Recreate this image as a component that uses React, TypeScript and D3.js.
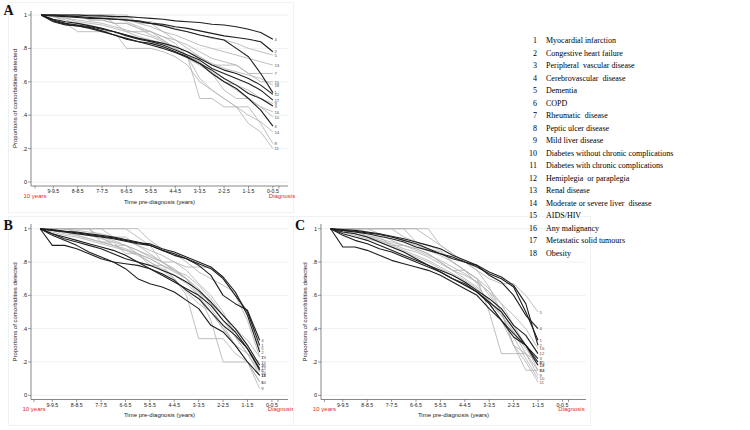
import React from "react";
import * as d3 from "d3";

// ---------- DATA ----------
const legendNumbers = [1, 2, 3, 4, 5, 6, 7, 8, 9, 10, 11, 12, 13, 14, 15, 16, 17, 18];
const legendLabels = [
  "Myocardial infarction",
  "Congestive heart failure",
  "Peripheral  vascular disease",
  "Cerebrovascular  disease",
  "Dementia",
  "COPD",
  "Rheumatic  disease",
  "Peptic ulcer disease",
  "Mild liver disease",
  "Diabetes without chronic complications",
  "Diabetes with chronic complications",
  "Hemiplegia  or paraplegia",
  "Renal disease",
  "Moderate or severe liver  disease",
  "AIDS/HIV",
  "Any malignancy",
  "Metastatic solid tumours",
  "Obesity",
];
const darkSeries = [1, 2, 3, 4, 6, 12, 17];

// time points (years before diagnosis, interval mid-points)
const timesA = [9.75, 9.25, 8.75, 8.25, 7.75, 7.25, 6.75, 6.25, 5.75, 5.25, 4.75, 4.25, 3.75, 3.25, 2.75, 2.25, 1.75, 1.25, 0.75, 0.25];
const timesB = [9.75, 9.25, 8.75, 8.25, 7.75, 7.25, 6.75, 6.25, 5.75, 5.25, 4.75, 4.25, 3.75, 3.25, 2.75, 2.25, 1.75, 1.25, 0.75];
const timesC = [9.75, 9.25, 8.75, 8.25, 7.75, 7.25, 6.75, 6.25, 5.75, 5.25, 4.75, 4.25, 3.75, 3.25, 2.75, 2.25, 1.75, 1.25];

const xTickValues = [9.25, 8.25, 7.25, 6.25, 5.25, 4.25, 3.25, 2.25, 1.25, 0.25];
const xTickLabels = ["9-9.5", "8-8.5", "7-7.5", "6-6.5", "5-5.5", "4-4.5", "3-3.5", "2-2.5", "1-1.5", "0-0.5"];
const startLabel = "10 years";
const endLabel = "Diagnosis";
const yTickValues = [0, 0.2, 0.4, 0.6, 0.8, 1];
const yTickLabels = ["0", ".2", ".4", ".6", ".8", "1"];

// Panel A: series 1..18
const valuesA = [
  [1, 1, 0.995, 0.99, 0.985, 0.98, 0.975, 0.97, 0.965, 0.95, 0.935, 0.915, 0.9, 0.88, 0.865, 0.85, 0.8, 0.75, 0.65, 0.535],
  [1, 0.995, 0.99, 0.985, 0.98, 0.98, 0.975, 0.97, 0.96, 0.95, 0.945, 0.93, 0.92, 0.905, 0.89, 0.875, 0.865, 0.855, 0.84, 0.78],
  [1, 0.965, 0.945, 0.935, 0.92, 0.9, 0.88, 0.86, 0.84, 0.82, 0.8, 0.775, 0.745, 0.71, 0.67, 0.62, 0.58, 0.53, 0.5, 0.455],
  [1, 1, 1, 1, 0.995, 0.995, 0.99, 0.99, 0.985, 0.98, 0.975, 0.965, 0.96, 0.955, 0.945, 0.94, 0.93, 0.915, 0.895, 0.855],
  [1, 1, 1, 1, 1, 1, 0.98, 0.98, 0.96, 0.96, 0.94, 0.92, 0.9, 0.88, 0.86, 0.85, 0.83, 0.8, 0.78, 0.76],
  [1, 0.96, 0.94, 0.935, 0.925, 0.905, 0.88, 0.855, 0.84, 0.83, 0.81, 0.78, 0.75, 0.71, 0.65, 0.6, 0.56, 0.5, 0.43, 0.335],
  [1, 1, 1, 1, 0.97, 0.97, 0.95, 0.95, 0.92, 0.9, 0.87, 0.85, 0.82, 0.78, 0.74, 0.72, 0.7, 0.65, 0.65, 0.65],
  [1, 1, 1, 1, 0.97, 0.97, 0.95, 0.95, 0.92, 0.88, 0.85, 0.8, 0.75, 0.5, 0.5, 0.45, 0.45, 0.45, 0.35, 0.23],
  [1, 1, 0.98, 0.96, 0.95, 0.94, 0.92, 0.9, 0.87, 0.85, 0.83, 0.8, 0.76, 0.72, 0.66, 0.6, 0.58, 0.55, 0.5, 0.47],
  [1, 0.99, 0.97, 0.95, 0.94, 0.92, 0.9, 0.88, 0.86, 0.84, 0.81, 0.78, 0.74, 0.7, 0.65, 0.6, 0.55, 0.5, 0.45, 0.39],
  [1, 1, 0.95, 0.9, 0.9, 0.9, 0.9, 0.8, 0.8, 0.8, 0.78, 0.75, 0.7, 0.6, 0.55, 0.5, 0.45, 0.35, 0.3, 0.2],
  [1, 0.97, 0.95, 0.94, 0.93, 0.915, 0.9, 0.88, 0.86, 0.845, 0.83, 0.81, 0.78, 0.74, 0.7, 0.67, 0.65, 0.62, 0.58, 0.525],
  [1, 1, 1, 1, 1, 0.99, 0.98, 0.97, 0.95, 0.93, 0.9, 0.88, 0.85, 0.82, 0.8, 0.78, 0.76, 0.74, 0.72, 0.7],
  [1, 1, 1, 1, 1, 1, 1, 0.96, 0.93, 0.9, 0.87, 0.83, 0.75, 0.62, 0.55, 0.5, 0.45, 0.4, 0.36, 0.3],
  [1, 1, 1, 1, 1, 1, 1, 1, 0.95, 0.95, 0.9, 0.85, 0.8, 0.75, 0.7, 0.7, 0.7, 0.65, 0.6, 0.6],
  [1, 1, 1, 1, 1, 1, 0.95, 0.9, 0.9, 0.9, 0.85, 0.8, 0.75, 0.72, 0.65, 0.55, 0.5, 0.5, 0.45, 0.42],
  [1, 0.975, 0.96, 0.95, 0.935, 0.92, 0.9, 0.875, 0.855, 0.84, 0.82, 0.79, 0.76, 0.73, 0.68, 0.65, 0.62, 0.59, 0.55, 0.49],
  [1, 0.99, 0.98, 0.97, 0.96, 0.95, 0.93, 0.91, 0.89, 0.87, 0.84, 0.81, 0.78, 0.75, 0.71, 0.68, 0.66, 0.64, 0.62, 0.58],
];

// Panel B: series 1..18
const valuesB = [
  [1, 0.99, 0.985, 0.98, 0.97, 0.96, 0.95, 0.935, 0.92, 0.9, 0.87, 0.85, 0.82, 0.79, 0.76, 0.7, 0.6, 0.5, 0.3],
  [1, 0.995, 0.985, 0.975, 0.965, 0.955, 0.945, 0.93, 0.915, 0.91, 0.88, 0.86, 0.83, 0.8, 0.77, 0.71, 0.62, 0.48, 0.26],
  [1, 0.97, 0.94, 0.92, 0.9, 0.88, 0.85, 0.82, 0.8, 0.78, 0.75, 0.72, 0.68, 0.63, 0.56, 0.48, 0.4, 0.3, 0.18],
  [1, 0.99, 0.98, 0.97, 0.96, 0.95, 0.94, 0.925, 0.91, 0.9, 0.87, 0.84, 0.82, 0.78, 0.72, 0.6, 0.55, 0.51, 0.33],
  [1, 1, 1, 1, 1, 1, 1, 1, 1, 0.93, 0.88, 0.85, 0.8, 0.74, 0.7, 0.66, 0.62, 0.5, 0.28],
  [1, 0.9, 0.9, 0.88, 0.85, 0.82, 0.8, 0.79, 0.78, 0.76, 0.73, 0.69, 0.63, 0.58, 0.5, 0.42, 0.36, 0.28, 0.15],
  [1, 1, 1, 0.98, 0.97, 0.95, 0.93, 0.9, 0.87, 0.83, 0.8, 0.76, 0.7, 0.62, 0.55, 0.48, 0.4, 0.33, 0.23],
  [1, 1, 1, 1, 1, 0.95, 0.9, 0.9, 0.85, 0.8, 0.75, 0.7, 0.6, 0.34, 0.34, 0.34, 0.25, 0.2, 0.08],
  [1, 1, 0.98, 0.96, 0.94, 0.92, 0.9, 0.87, 0.84, 0.8, 0.76, 0.72, 0.67, 0.6, 0.45, 0.2, 0.2, 0.2, 0.04],
  [1, 0.98, 0.96, 0.95, 0.93, 0.91, 0.89, 0.87, 0.85, 0.82, 0.78, 0.74, 0.7, 0.64, 0.55, 0.45, 0.35, 0.25, 0.14],
  [1, 1, 1, 1, 1, 1, 0.95, 0.95, 0.9, 0.85, 0.8, 0.8, 0.75, 0.67, 0.6, 0.5, 0.35, 0.25, 0.12],
  [1, 0.97, 0.95, 0.93, 0.91, 0.89, 0.87, 0.84, 0.8, 0.76, 0.72, 0.68, 0.64, 0.6, 0.54, 0.45, 0.38, 0.28, 0.16],
  [1, 1, 1, 0.99, 0.98, 0.97, 0.95, 0.93, 0.9, 0.87, 0.84, 0.8, 0.77, 0.77, 0.77, 0.7, 0.6, 0.45, 0.23],
  [1, 1, 1, 1, 1, 1, 1, 1, 0.95, 0.9, 0.8, 0.75, 0.7, 0.6, 0.5, 0.4, 0.3, 0.2, 0.08],
  [1, 1, 1, 1, 1, 0.92, 0.92, 0.85, 0.85, 0.78, 0.78, 0.7, 0.62, 0.55, 0.5, 0.4, 0.3, 0.25, 0.2],
  [1, 0.99, 0.97, 0.96, 0.94, 0.92, 0.9, 0.88, 0.85, 0.82, 0.78, 0.75, 0.72, 0.66, 0.58, 0.48, 0.38, 0.28, 0.18],
  [1, 0.96, 0.93, 0.9, 0.86, 0.83, 0.8, 0.76, 0.7, 0.67, 0.65, 0.62, 0.57, 0.52, 0.42, 0.38, 0.3, 0.2, 0.12],
  [1, 0.99, 0.98, 0.97, 0.96, 0.94, 0.92, 0.9, 0.87, 0.84, 0.8, 0.75, 0.7, 0.62, 0.52, 0.42, 0.3, 0.2, 0.12],
];

// Panel C: series 1..18
const valuesC = [
  [1, 0.99, 0.985, 0.975, 0.965, 0.95, 0.93, 0.91, 0.88, 0.85, 0.82, 0.8, 0.77, 0.73, 0.7, 0.65, 0.5, 0.33],
  [1, 0.995, 0.99, 0.98, 0.97, 0.955, 0.94, 0.92, 0.9, 0.88, 0.84, 0.81, 0.78, 0.74, 0.71, 0.66, 0.55, 0.3],
  [1, 0.96, 0.93, 0.91, 0.88, 0.86, 0.83, 0.8, 0.77, 0.74, 0.7, 0.67, 0.62, 0.55, 0.45, 0.37, 0.3, 0.22],
  [1, 0.99, 0.98, 0.97, 0.955, 0.94, 0.92, 0.89, 0.87, 0.85, 0.83, 0.8, 0.78, 0.72, 0.68, 0.6, 0.48, 0.4],
  [1, 1, 1, 1, 1, 1, 1, 1, 0.95, 0.9, 0.85, 0.8, 0.75, 0.7, 0.67, 0.67, 0.6, 0.5],
  [1, 0.89, 0.89, 0.87, 0.84, 0.81, 0.79, 0.77, 0.75, 0.72, 0.68, 0.64, 0.6, 0.52, 0.45, 0.35, 0.3, 0.2],
  [1, 1, 1, 1, 1, 1, 0.95, 0.92, 0.88, 0.86, 0.8, 0.75, 0.7, 0.6, 0.5, 0.4, 0.3, 0.2],
  [1, 1, 1, 1, 1, 1, 1, 0.92, 0.9, 0.87, 0.8, 0.75, 0.7, 0.5, 0.25, 0.25, 0.25, 0.15],
  [1, 0.99, 0.97, 0.95, 0.93, 0.91, 0.88, 0.86, 0.83, 0.79, 0.75, 0.7, 0.65, 0.57, 0.48, 0.38, 0.25, 0.12],
  [1, 0.98, 0.96, 0.94, 0.92, 0.89, 0.86, 0.83, 0.8, 0.76, 0.72, 0.68, 0.63, 0.55, 0.45, 0.35, 0.22, 0.1],
  [1, 1, 1, 1, 0.97, 0.93, 0.9, 0.88, 0.85, 0.8, 0.75, 0.72, 0.68, 0.62, 0.5, 0.3, 0.2, 0.08],
  [1, 0.97, 0.95, 0.93, 0.9, 0.87, 0.84, 0.81, 0.78, 0.75, 0.72, 0.68, 0.63, 0.58, 0.52, 0.42, 0.36, 0.25],
  [1, 1, 1, 0.98, 0.97, 0.95, 0.93, 0.9, 0.87, 0.84, 0.8, 0.75, 0.7, 0.64, 0.55, 0.42, 0.3, 0.15],
  [1, 1, 1, 1, 1, 1, 1, 1, 1, 0.9, 0.85, 0.8, 0.75, 0.65, 0.5, 0.3, 0.15, 0.15],
  [1, 1, 1, 0.95, 0.95, 0.9, 0.9, 0.88, 0.85, 0.8, 0.75, 0.75, 0.67, 0.55, 0.45, 0.3, 0.25, 0.2],
  [1, 0.99, 0.98, 0.96, 0.94, 0.92, 0.9, 0.87, 0.84, 0.81, 0.77, 0.73, 0.68, 0.62, 0.55, 0.48, 0.4, 0.28],
  [1, 0.98, 0.97, 0.95, 0.92, 0.89, 0.86, 0.82, 0.78, 0.74, 0.7, 0.66, 0.62, 0.56, 0.5, 0.4, 0.3, 0.18],
  [1, 0.99, 0.97, 0.95, 0.93, 0.9, 0.87, 0.84, 0.81, 0.77, 0.73, 0.69, 0.64, 0.56, 0.48, 0.38, 0.28, 0.18],
];

// ---------- LAYOUT ----------
type PanelCfg = {
  letter: string;
  times: number[];
  values: number[][];
  frame: [number, number, number, number];
  xRange: [number, number];
  yRange: [number, number];
  axisX: number;
  plotRight: number;
  plotTop: number;
  axisY: number;
  letterPos: [number, number];
};

const panels: PanelCfg[] = [
  { letter: "A", times: timesA, values: valuesA, frame: [8, 2, 293, 212], xRange: [35, 279], yRange: [182, 15], axisX: 31, plotRight: 288, plotTop: 11, axisY: 186, letterPos: [3.5, 15] },
  { letter: "B", times: timesB, values: valuesB, frame: [8, 216, 293, 425], xRange: [34, 278], yRange: [395.3, 228.7], axisX: 31, plotRight: 288, plotTop: 224, axisY: 399.5, letterPos: [3.5, 230] },
  { letter: "C", times: timesC, values: valuesC, frame: [293, 216, 590, 425], xRange: [324.5, 568.5], yRange: [395.3, 228.7], axisX: 321, plotRight: 586, plotTop: 224, axisY: 399.5, letterPos: [295, 230] },
];

const SANS = "'Liberation Sans', Arial, sans-serif";
const SERIF = "'Liberation Serif', 'Times New Roman', serif";

function Panel({ cfg }: { cfg: PanelCfg }) {
  const x = d3.scaleLinear().domain([10, 0]).range(cfg.xRange);
  const y = d3.scaleLinear().domain([0, 1]).range(cfg.yRange);
  const line = d3
    .line<[number, number]>()
    .x((d) => x(d[0]))
    .y((d) => y(d[1]));
  const order = legendNumbers
    .map((n, i) => ({ n, i, dark: darkSeries.includes(n) }))
    .sort((a, b) => Number(a.dark) - Number(b.dark));
  const [fx0, fy0, fx1, fy1] = cfg.frame;
  const plotMidX = (cfg.axisX + cfg.plotRight) / 2;
  const plotMidY = (y(0) + y(1)) / 2;
  return (
    <g>
      <rect x={fx0 + 0.5} y={fy0 + 0.5} width={fx1 - fx0} height={fy1 - fy0} fill="#ffffff" stroke="#eef2f4" strokeWidth={1} />
      {yTickValues.map((v) => (
        <line key={"g" + v} x1={cfg.axisX} x2={cfg.plotRight} y1={y(v)} y2={y(v)} stroke="#e9eef0" strokeWidth={0.8} />
      ))}
      <line x1={cfg.axisX} x2={cfg.axisX} y1={cfg.plotTop} y2={cfg.axisY} stroke="#555" strokeWidth={0.7} />
      <line x1={cfg.axisX} x2={cfg.plotRight} y1={cfg.axisY} y2={cfg.axisY} stroke="#555" strokeWidth={0.7} />
      {yTickValues.map((v, i) => (
        <g key={"yt" + v}>
          <line x1={cfg.axisX - 3} x2={cfg.axisX} y1={y(v)} y2={y(v)} stroke="#555" strokeWidth={0.6} />
          <text x={cfg.axisX - 4} y={y(v) + 2} textAnchor="end" fontSize={5.6} fontFamily={SANS} fill="#222">
            {yTickLabels[i]}
          </text>
        </g>
      ))}
      {xTickValues.map((v, i) => (
        <g key={"xt" + v}>
          <line x1={x(v)} x2={x(v)} y1={cfg.axisY} y2={cfg.axisY + 2.5} stroke="#555" strokeWidth={0.6} />
          <text x={x(v)} y={cfg.axisY + 7.3} textAnchor="middle" fontSize={5.2} fontFamily={SANS} fill="#222">
            {xTickLabels[i]}
          </text>
        </g>
      ))}
      <line x1={x(10)} x2={x(10)} y1={cfg.axisY} y2={cfg.axisY + 2.5} stroke="#555" strokeWidth={0.6} />
      <line x1={x(0)} x2={x(0)} y1={cfg.axisY} y2={cfg.axisY + 2.5} stroke="#555" strokeWidth={0.6} />
      <text x={x(10)} y={cfg.axisY + 11.8} textAnchor="middle" fontSize={6} fontFamily={SANS} fill="#e8262a">
        {startLabel}
      </text>
      <text x={x(0) + 3} y={cfg.axisY + 11.8} textAnchor="middle" fontSize={6} fontFamily={SANS} fill="#e8262a">
        {endLabel}
      </text>
      <text x={plotMidX} y={cfg.axisY + 17.8} textAnchor="middle" fontSize={6} fontFamily={SANS} fill="#222">
        Time pre-diagnosis (years)
      </text>
      <text
        transform={`translate(${cfg.axisX - 14.5},${plotMidY}) rotate(-90)`}
        textAnchor="middle"
        fontSize={6}
        fontFamily={SANS}
        fill="#222"
      >
        Proportions of comorbidities detected
      </text>
      {order.map(({ n, i, dark }) => {
        const pts = cfg.times.map((t, k) => [t, cfg.values[i][k]] as [number, number]);
        return (
          <path
            key={"l" + n}
            d={line(pts) || ""}
            fill="none"
            stroke={dark ? "#1e1e1e" : "#b4b4b4"}
            strokeWidth={dark ? 1.1 : 0.85}
            strokeLinejoin="round"
          />
        );
      })}
      {legendNumbers.map((n, i) => {
        const k = cfg.times.length - 1;
        return (
          <text
            key={"e" + n}
            x={x(cfg.times[k]) + 1.5}
            y={y(cfg.values[i][k]) + 1.7}
            fontSize={4.3}
            fontFamily={SANS}
            fill="#555"
          >
            {n}
          </text>
        );
      })}
      <text x={cfg.letterPos[0]} y={cfg.letterPos[1]} fontSize={14} fontWeight="bold" fontFamily={SERIF} fill="#111">
        {cfg.letter}
      </text>
    </g>
  );
}

export default function App() {
  return (
    <svg width={750} height={430} style={{ position: "absolute", left: 0, top: 0, background: "#fff" }}>
      <rect x={0} y={0} width={750} height={430} fill="#fff" />
      {panels.map((p) => (
        <Panel key={p.letter} cfg={p} />
      ))}
      {legendNumbers.map((n, i) => (
        <g key={"lg" + n}>
          <text x={537} y={43 + 12.5 * i} textAnchor="end" fontSize={8} fontFamily={SERIF} fill="#000">
            {n}
          </text>
          <text x={546} y={43 + 12.5 * i} fontSize={8} fontFamily={SERIF} fill="#000" style={{ whiteSpace: "pre" }}>
            {legendLabels[i]}
          </text>
        </g>
      ))}
    </svg>
  );
}
